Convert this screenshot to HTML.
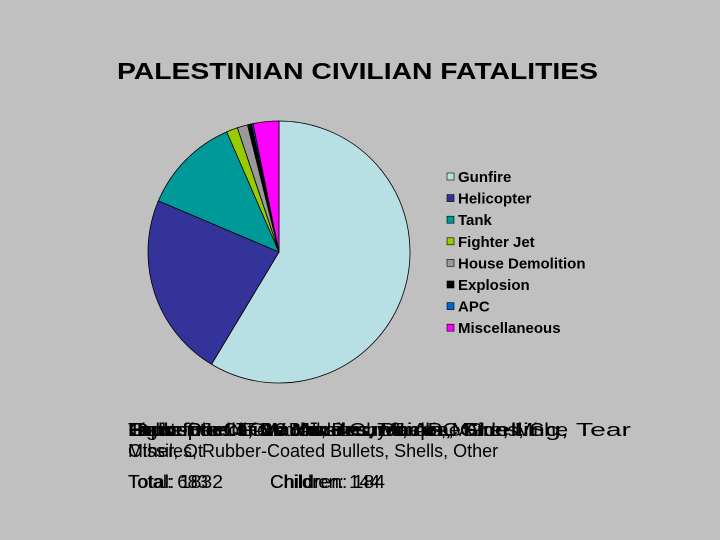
<!DOCTYPE html>
<html><head><meta charset="utf-8"><style>
html,body{margin:0;padding:0;background:#c0c0c0;}
svg{display:block;font-family:"Liberation Sans",Arial,sans-serif;}
</style></head><body>
<svg id="c" width="720" height="540" viewBox="0 0 720 540">
<rect width="720" height="540" fill="#c0c0c0"/>
<text x="117" y="79" font-size="23" font-weight="bold" textLength="481" lengthAdjust="spacingAndGlyphs" fill="#000">PALESTINIAN CIVILIAN FATALITIES</text>
<g id="pie"></g>
<g id="legend"></g>
<g font-size="18" fill="#000">
<text x="128" y="436" textLength="503" lengthAdjust="spacingAndGlyphs">Gunfire: Live Ammunition, Shelling, Tear</text>
<text x="128" y="436" textLength="440" lengthAdjust="spacingAndGlyphs">Helicopter: TOW Missiles, Machine Guns, She</text>
<text x="128" y="436" textLength="410" lengthAdjust="spacingAndGlyphs">Tank: Shells, Machine Guns, APC Fire, Mi</text>
<text x="128" y="436" textLength="380" lengthAdjust="spacingAndGlyphs">Fighter Jet: F-16 Missiles, Bombs, Ordn</text>
<text x="128" y="436" textLength="340" lengthAdjust="spacingAndGlyphs">Explosion: Car Bombs, Booby Traps, M</text>
<text x="128" y="436" textLength="280" lengthAdjust="spacingAndGlyphs">House Demolition: Bulldozer, Tan</text>
<text x="128" y="457">Missiles, Rubber-Coated Bullets, Shells, Other</text>
<text x="128" y="457" textLength="75" lengthAdjust="spacingAndGlyphs">Other, Ot</text>
<text x="128" y="488" textLength="95" lengthAdjust="spacingAndGlyphs">Total: 1832</text>
<text x="128" y="488" textLength="80" lengthAdjust="spacingAndGlyphs">Total: 683</text>
<text x="270" y="488" textLength="115" lengthAdjust="spacingAndGlyphs">Children: 184</text>
<text x="270" y="488" textLength="110" lengthAdjust="spacingAndGlyphs">Children: 144</text>
</g>
</svg>
<script>
const categories=["Gunfire","Helicopter","Tank","Fighter Jet","House Demolition","Explosion","APC","Miscellaneous"];
const values=[59.2,23.0,12.2,1.4,1.3,0.5,0.2,3.2];
const colors=["#b8e0e4","#333399","#009999","#99cc00","#999999","#000000","#0066cc","#ff00ff"];
const NS="http://www.w3.org/2000/svg";
const cx=279,cy=252,r=131;
const pie=document.getElementById('pie'),legend=document.getElementById('legend');
const total=values.reduce((a,b)=>a+b,0);
function pt(a){return [cx+r*Math.sin(a),cy-r*Math.cos(a)];}
let acc=0;
values.forEach((v,i)=>{
  const a0=acc/total*2*Math.PI;acc+=v;const a1=acc/total*2*Math.PI;
  const p0=pt(a0),p1=pt(a1);const large=(a1-a0)>Math.PI?1:0;
  const p=document.createElementNS(NS,'path');
  p.setAttribute('d',`M${cx},${cy}L${p0[0]},${p0[1]}A${r},${r} 0 ${large} 1 ${p1[0]},${p1[1]}Z`);
  p.setAttribute('fill',colors[i]);p.setAttribute('stroke','#000');p.setAttribute('stroke-width','0.8');
  
  
  pie.appendChild(p);
  const y=177+i*21.6;
  const s=document.createElementNS(NS,'rect');
  s.setAttribute('x',447);s.setAttribute('y',y-4);s.setAttribute('width',7);s.setAttribute('height',7);
  s.setAttribute('fill',colors[i]);s.setAttribute('stroke','#000');s.setAttribute('stroke-width','0.6');
  
  
  legend.appendChild(s);
  const t=document.createElementNS(NS,'text');
  t.setAttribute('x',458);t.setAttribute('y',y+5);t.setAttribute('font-size','15');t.setAttribute('font-weight','bold');
  t.textContent=categories[i];
  
  
  legend.appendChild(t);
});
</script>
</body></html>
